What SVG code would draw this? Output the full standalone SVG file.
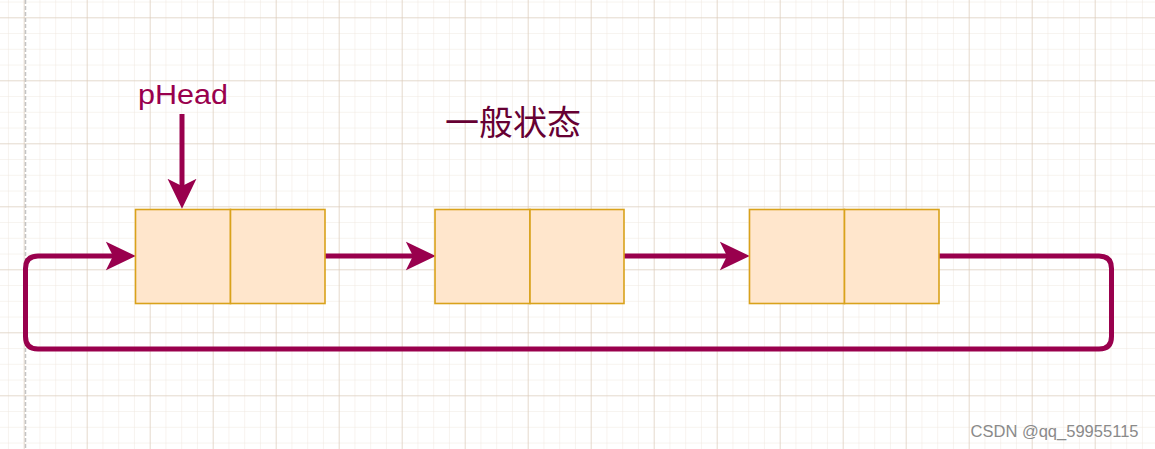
<svg xmlns="http://www.w3.org/2000/svg" width="1155" height="449" viewBox="0 0 1155 449">
<style>
.cell{fill:#ffe6cc;stroke:#d9a21b;stroke-width:1.6}
.conn{fill:none;stroke:#99004d;stroke-width:5}
.lbl{font-family:"Comic Sans MS","Liberation Sans",sans-serif;fill:#99004d}
</style>
<defs>
<pattern id="minor" patternUnits="userSpaceOnUse" x="7.95" y="1.55" width="15.75" height="15.75">
<path d="M0,0 V15.75 M0,0 H15.75" stroke="#efe8e0" stroke-width="1" fill="none"/>
</pattern>
<pattern id="major" patternUnits="userSpaceOnUse" x="23.7" y="17.3" width="63" height="63">
<path d="M0,0 V63 M0,0 H63" stroke="#d6c4b0" stroke-width="1" fill="none"/>
</pattern>
<marker id="ah" markerUnits="userSpaceOnUse" markerWidth="30" markerHeight="30" viewBox="0 0 29 28" refX="7" refY="14" orient="auto">
<path d="M0,0 L29,14 L0,28 L7,14 Z" fill="#99004d"/>
</marker>
</defs>
<rect width="1155" height="449" fill="#ffffff"/>
<rect width="1155" height="449" fill="url(#minor)"/>
<rect width="1155" height="449" fill="url(#major)"/>
<line x1="25.5" y1="0" x2="25.5" y2="449" stroke="#c4c4c4" stroke-width="1.5" stroke-dasharray="4,2"/>
<g id="connectors">
<path class="conn" d="M182,114 V186" marker-end="url(#ah)"/>
<path class="conn" d="M325,256 H413" marker-end="url(#ah)"/>
<path class="conn" d="M624,256 H727" marker-end="url(#ah)"/>
<path class="conn" d="M939,256 H1099 Q1111.5,256 1111.5,268.5 V336.5 Q1111.5,349 1099,349 H38 Q25.5,349 25.5,336.5 V268.5 Q25.5,256 38,256 H113" marker-end="url(#ah)"/>
</g>
<g id="node1">
<rect class="cell" x="135.5" y="209.5" width="95" height="94"/>
<rect class="cell" x="230.5" y="209.5" width="94.5" height="94"/>
</g>
<g id="node2">
<rect class="cell" x="435" y="209.5" width="95" height="94"/>
<rect class="cell" x="530" y="209.5" width="94" height="94"/>
</g>
<g id="node3">
<rect class="cell" x="749.5" y="209.5" width="95" height="94"/>
<rect class="cell" x="844.5" y="209.5" width="94.5" height="94"/>
</g>
<g id="label-phead">
<text class="lbl" x="138" y="103.5" font-size="27" textLength="90" lengthAdjust="spacingAndGlyphs">pHead</text>
</g>
<g id="title">
<text x="513" y="134.5" font-size="34" text-anchor="middle" fill="#660033" font-family="'Noto Sans CJK SC',sans-serif">一般状态</text>
</g>
<text x="970.5" y="436.5" font-size="16" fill="#8a8a8a" font-family="'Liberation Sans',Arial,sans-serif" textLength="168" lengthAdjust="spacingAndGlyphs">CSDN @qq_59955115</text>
</svg>
